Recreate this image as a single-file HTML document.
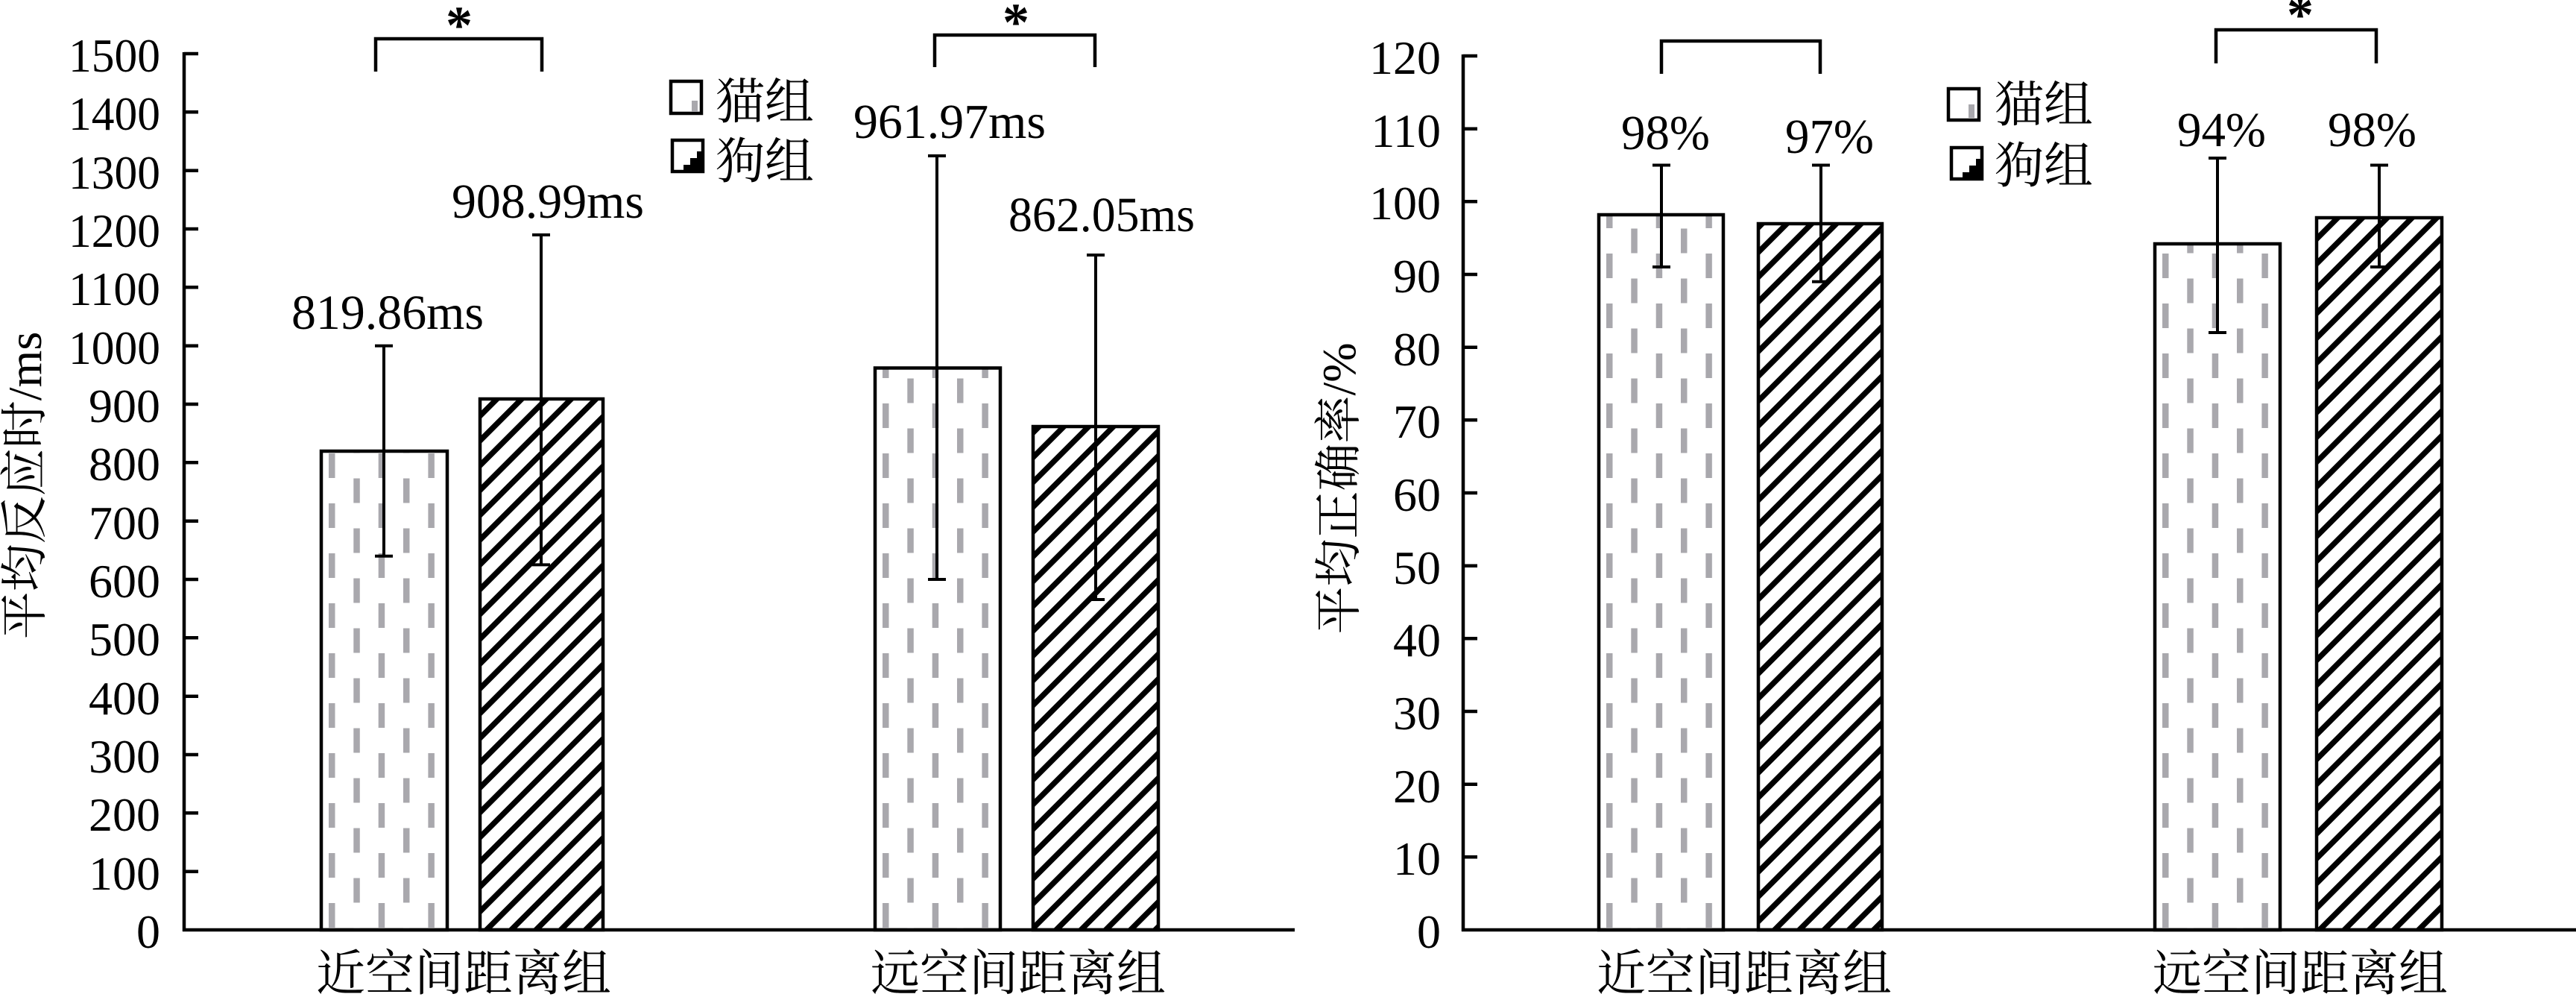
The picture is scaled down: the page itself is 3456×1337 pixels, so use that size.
<!DOCTYPE html>
<html><head><meta charset="utf-8"><style>html,body{margin:0;padding:0;background:#fff}svg{display:block}</style></head>
<body>
<svg xmlns="http://www.w3.org/2000/svg" width="3456" height="1337" viewBox="0 0 3456 1337">
<defs>
<pattern id="cat1" patternUnits="userSpaceOnUse" x="431" y="604" width="66.7" height="67"><rect x="10" y="4" width="8.5" height="33" fill="#a9a8ad"/><rect x="43.3" y="37.5" width="8.5" height="33" fill="#a9a8ad"/><rect x="43.3" y="-29.5" width="8.5" height="33" fill="#a9a8ad"/></pattern>
<pattern id="cat2" patternUnits="userSpaceOnUse" x="1174" y="604" width="66.7" height="67"><rect x="10" y="4" width="8.5" height="33" fill="#a9a8ad"/><rect x="43.3" y="37.5" width="8.5" height="33" fill="#a9a8ad"/><rect x="43.3" y="-29.5" width="8.5" height="33" fill="#a9a8ad"/></pattern>
<pattern id="cat3" patternUnits="userSpaceOnUse" x="2145" y="604" width="66.7" height="67"><rect x="10" y="4" width="8.5" height="33" fill="#a9a8ad"/><rect x="43.3" y="37.5" width="8.5" height="33" fill="#a9a8ad"/><rect x="43.3" y="-29.5" width="8.5" height="33" fill="#a9a8ad"/></pattern>
<pattern id="cat4" patternUnits="userSpaceOnUse" x="2891" y="604" width="66.7" height="67"><rect x="10" y="4" width="8.5" height="33" fill="#a9a8ad"/><rect x="43.3" y="37.5" width="8.5" height="33" fill="#a9a8ad"/><rect x="43.3" y="-29.5" width="8.5" height="33" fill="#a9a8ad"/></pattern>
<pattern id="dog" patternUnits="userSpaceOnUse" width="23.5" height="20" patternTransform="rotate(45)"><rect x="0" y="0" width="7.5" height="20" fill="#000"/></pattern>
</defs>
<g font-family="Liberation Serif, serif" fill="#000">
<g stroke="#000" stroke-width="4.5" fill="none">
<line x1="247" y1="70" x2="247" y2="1249"/>
<line x1="245" y1="1247" x2="1737" y2="1247"/>
<path d="M247 72h19M247 150.3h19M247 228.7h19M247 307h19M247 385.3h19M247 463.7h19M247 542h19M247 620.3h19M247 698.7h19M247 777h19M247 855.3h19M247 933.7h19M247 1012h19M247 1090.3h19M247 1168.7h19"/>
</g>
<g font-size="64" text-anchor="end">
<text x="215" y="1271">0</text><text x="215" y="1193">100</text><text x="215" y="1114">200</text><text x="215" y="1036">300</text><text x="215" y="958">400</text><text x="215" y="879">500</text><text x="215" y="801">600</text><text x="215" y="723">700</text><text x="215" y="644">800</text><text x="215" y="566">900</text><text x="215" y="488" textLength="123" lengthAdjust="spacingAndGlyphs">1000</text><text x="215" y="409" textLength="123" lengthAdjust="spacingAndGlyphs">1100</text><text x="215" y="331" textLength="123" lengthAdjust="spacingAndGlyphs">1200</text><text x="215" y="253" textLength="123" lengthAdjust="spacingAndGlyphs">1300</text><text x="215" y="174" textLength="123" lengthAdjust="spacingAndGlyphs">1400</text><text x="215" y="96" textLength="123" lengthAdjust="spacingAndGlyphs">1500</text>
</g>
<text transform="translate(55,651) rotate(-90)" font-size="64" text-anchor="middle" font-family="Liberation Serif, 'Noto Serif CJK SC', serif">平均反应时/ms</text>
<rect x="431" y="605" width="169" height="642" fill="url(#cat1)" stroke="#000" stroke-width="4.5"/>
<rect x="644" y="535" width="165" height="712" fill="url(#dog)" stroke="#000" stroke-width="4.5"/>
<rect x="1174" y="493.5" width="168" height="753.5" fill="url(#cat2)" stroke="#000" stroke-width="4.5"/>
<rect x="1386" y="572" width="168" height="675" fill="url(#dog)" stroke="#000" stroke-width="4.5"/>
<g stroke="#000" stroke-width="4" fill="none">
<path d="M515 463.7V745.7M503 463.7h24M503 745.7h24"/>
<path d="M726 315V757.4M714 315h24M714 757.4h24"/>
<path d="M1257 209V777M1245 209h24M1245 777h24"/>
<path d="M1470 342V804M1458 342h24M1458 804h24"/>
<path d="M504 96V52H727V96" stroke-width="4.5"/>
<path d="M1254 90V47H1469V90" stroke-width="4.5"/>
</g>
<text x="616" y="58" font-size="72" font-weight="bold" text-anchor="middle">*</text>
<text x="1363" y="54" font-size="72" font-weight="bold" text-anchor="middle">*</text>
<g font-size="66">
<text x="391" y="441" textLength="258" lengthAdjust="spacingAndGlyphs">819.86ms</text>
<text x="606" y="292" textLength="258" lengthAdjust="spacingAndGlyphs">908.99ms</text>
<text x="1145" y="185" textLength="258" lengthAdjust="spacingAndGlyphs">961.97ms</text>
<text x="1353" y="310" textLength="250" lengthAdjust="spacingAndGlyphs">862.05ms</text>
</g>
<rect x="900" y="109" width="41" height="43" fill="#fff" stroke="#000" stroke-width="4.5"/>
<rect x="928" y="135" width="8" height="15" fill="#a9a8ad"/>
<rect x="902" y="188" width="41" height="42" fill="#fff" stroke="#000" stroke-width="4.5"/>
<path d="M943 203h-8v9h-9v9h-9v9h26z" fill="#000"/>
<g font-family="Liberation Serif, 'Noto Serif CJK SC', serif" font-size="66">
<text x="960" y="159">猫组</text><text x="960" y="239">狗组</text>
<text x="622" y="1328" text-anchor="middle">近空间距离组</text>
<text x="1366" y="1328" text-anchor="middle">远空间距离组</text>
</g>

<g stroke="#000" stroke-width="4.5" fill="none">
<line x1="1963" y1="73" x2="1963" y2="1249"/>
<line x1="1961" y1="1247" x2="3456" y2="1247"/>
<path d="M1963 75h19M1963 172.7h19M1963 270.3h19M1963 368h19M1963 465.7h19M1963 563.3h19M1963 661h19M1963 758.7h19M1963 856.3h19M1963 954h19M1963 1051.7h19M1963 1149.3h19"/>
</g>
<g font-size="64" text-anchor="end">
<text x="1933" y="1271">0</text><text x="1933" y="1173">10</text><text x="1933" y="1076">20</text><text x="1933" y="978">30</text><text x="1933" y="880">40</text><text x="1933" y="783">50</text><text x="1933" y="685">60</text><text x="1933" y="587">70</text><text x="1933" y="490">80</text><text x="1933" y="392">90</text><text x="1933" y="294">100</text><text x="1933" y="197">110</text><text x="1933" y="99">120</text>
</g>
<text transform="translate(1818,655) rotate(-90)" font-size="64" text-anchor="middle" font-family="Liberation Serif, 'Noto Serif CJK SC', serif">平均正确率/%</text>
<rect x="2145" y="288" width="167" height="959" fill="url(#cat3)" stroke="#000" stroke-width="4.5"/>
<rect x="2359" y="300" width="166" height="947" fill="url(#dog)" stroke="#000" stroke-width="4.5"/>
<rect x="2891" y="327" width="168" height="920" fill="url(#cat4)" stroke="#000" stroke-width="4.5"/>
<rect x="3108" y="292" width="168" height="955" fill="url(#dog)" stroke="#000" stroke-width="4.5"/>
<g stroke="#000" stroke-width="4" fill="none">
<path d="M2229 221.5V358M2217 221.5h24M2217 358h24"/>
<path d="M2443 221.5V377.7M2431 221.5h24M2431 377.7h24"/>
<path d="M2975 212V446M2963 212h24M2963 446h24"/>
<path d="M3192 221.5V358M3180 221.5h24M3180 358h24"/>
<path d="M2229 99V55H2442V99" stroke-width="4.5"/>
<path d="M2973 85V40H3188V85" stroke-width="4.5"/>
</g>
<text x="3086" y="44" font-size="72" font-weight="bold" text-anchor="middle">*</text>
<g font-size="66">
<text x="2175" y="200" textLength="119" lengthAdjust="spacingAndGlyphs">98%</text>
<text x="2395" y="205" textLength="119" lengthAdjust="spacingAndGlyphs">97%</text>
<text x="2921" y="196" textLength="119" lengthAdjust="spacingAndGlyphs">94%</text>
<text x="3123" y="196" textLength="119" lengthAdjust="spacingAndGlyphs">98%</text>
</g>
<rect x="2614" y="119" width="41" height="42" fill="#fff" stroke="#000" stroke-width="4.5"/>
<rect x="2641" y="140" width="8" height="18" fill="#a9a8ad"/>
<rect x="2618" y="198" width="41" height="42" fill="#fff" stroke="#000" stroke-width="4.5"/>
<path d="M2659 213h-8v9h-9v9h-9v9h26z" fill="#000"/>
<g font-family="Liberation Serif, 'Noto Serif CJK SC', serif" font-size="66">
<text x="2676" y="163">猫组</text><text x="2676" y="245">狗组</text>
<text x="2340" y="1328" text-anchor="middle">近空间距离组</text>
<text x="3086" y="1328" text-anchor="middle">远空间距离组</text>
</g>
</g>
</svg>
</body></html>
